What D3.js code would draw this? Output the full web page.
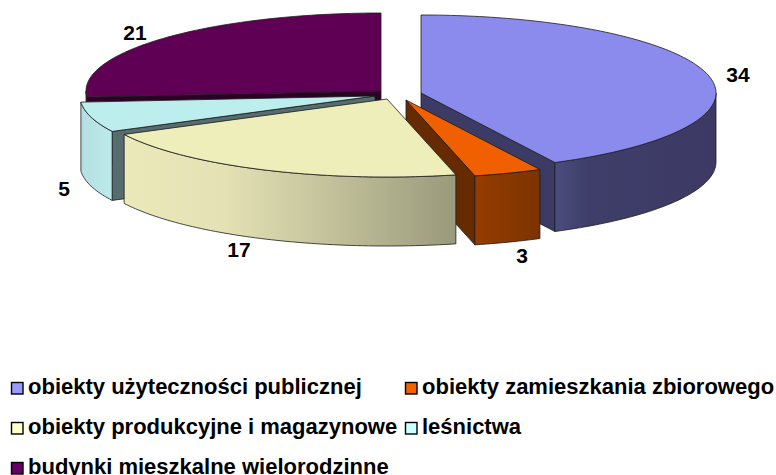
<!DOCTYPE html>
<html><head><meta charset="utf-8">
<script src="https://cdn.jsdelivr.net/npm/d3@7/dist/d3.min.js"></script>
<style>html,body{margin:0;padding:0;background:#fff;overflow:hidden}svg{display:block}
text{font-family:"Liberation Sans",Arial,sans-serif;font-weight:bold;fill:#000}</style>
</head><body><svg id="c" width="776" height="475"></svg>
<script>
// Data
const categories = ["obiekty użyteczności publicznej","obiekty zamieszkania zbiorowego","obiekty produkcyjne i magazynowe","leśnictwa","budynki mieszkalne wielorodzinne"];
const values = [34,3,17,5,21];

// Layout and style
const W=776,H=475,rx=295,ry=78,depth=69;
const centres=[[421,93],[406,100],[387,99],[375,96],[381,91]];
const labelPos=[[738,75],[522,256],[239,250],[64,189],[135,33]];
const legendPos=[[11,394],[405,394],[11,434],[405,434],[11,474]];
const topCol=["#8b8bed","#f06000","#eeeebb","#bdeeee","#600055"];
const swatchCol=["#9999ff","#f26200","#ffffcc","#ccffff","#660066"];
const innerCol=["#3c3b66","#662b00","#8f8f70","#566c6e","#2d0026"];
const rimStops=[
 [[0,"#4b4d7e"],[.2,"#3f3e6a"],[1,"#3c3a64"]],
 [[0,"#963c00"],[1,"#7c3300"]],
 [[0,"#ebe9ba"],[.3,"#e4e2b4"],[1,"#9a9a7c"]],
 [[0,"#b4dfe2"],[1,"#bdeaea"]],
 [[0,"#5a004f"],[1,"#5a004f"]]
];
const paintOrder=[4,0,1,3,2];
const edge="#1c1c1c";

const svg=d3.select("#c");
const defs=svg.append("defs");
const arcs=d3.pie().sort(null).startAngle(0).endAngle(2*Math.PI)(values);
const px=(c,a)=>c[0]+rx*Math.sin(a), py=(c,a)=>c[1]-ry*Math.cos(a);
const line=d3.line().x(d=>d[0]).y(d=>d[1]);
const samples=(a0,a1)=>{const n=Math.max(2,Math.ceil((a1-a0)/0.02));return d3.range(n+1).map(i=>a0+(a1-a0)*i/n);};

paintOrder.forEach(i=>{
  const s=arcs[i],c=centres[i],g=svg.append("g").attr("stroke",edge).attr("stroke-width",.8).attr("stroke-linejoin","round");
  // radial walls facing the viewer
  [s.startAngle,s.endAngle].forEach((a,k)=>{
    const vis=k===0?Math.sin(a)<-1e-6:Math.sin(a)>1e-6;
    if(!vis)return;
    g.append("path").attr("fill",innerCol[i]).attr("d",line([
      c,[px(c,a),py(c,a)],[px(c,a),py(c,a)+depth],[c[0],c[1]+depth]])+"Z");
  });
  // outer rim, front half only
  const a0=Math.max(s.startAngle,Math.PI/2),a1=Math.min(s.endAngle,3*Math.PI/2);
  if(a1>a0){
    const pts=samples(a0,a1).map(a=>[px(c,a),py(c,a)]);
    const xs=d3.extent(pts,d=>d[0]),id="rim"+i;
    const gr=defs.append("linearGradient").attr("id",id).attr("gradientUnits","userSpaceOnUse")
      .attr("x1",xs[0]).attr("x2",xs[1]).attr("y1",0).attr("y2",0);
    rimStops[i].forEach(t=>gr.append("stop").attr("offset",t[0]).attr("stop-color",t[1]));
    const low=pts.slice().reverse().map(p=>[p[0],p[1]+depth]);
    g.append("path").attr("fill",`url(#${id})`).attr("d",line(pts.concat(low))+"Z");
  }
  // top face
  const rim=samples(s.startAngle,s.endAngle).map(a=>[px(c,a),py(c,a)]);
  g.append("path").attr("fill",topCol[i]).attr("d",line([c].concat(rim))+"Z");
});

// value labels
svg.append("g").selectAll("text").data(values).join("text")
  .attr("x",(d,i)=>labelPos[i][0]).attr("y",(d,i)=>labelPos[i][1]).attr("dy",".35em")
  .attr("text-anchor","middle").attr("font-size",21).text(d=>d);

// legend
const lg=svg.append("g").selectAll("g").data(categories).join("g")
  .attr("transform",(d,i)=>`translate(${legendPos[i][0]},${legendPos[i][1]})`);
lg.append("rect").attr("x",.5).attr("y",-11.5).attr("width",11.5).attr("height",11.5)
  .attr("fill",(d,i)=>swatchCol[i]).attr("stroke","#000").attr("stroke-width",1.4);
lg.append("text").attr("x",17).attr("font-size",22).text(d=>d);
</script></body></html>
